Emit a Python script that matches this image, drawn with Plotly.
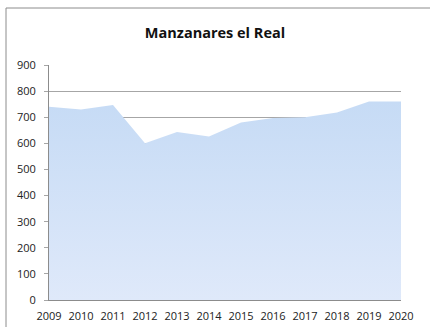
import plotly.graph_objects as go

years = ["2009", "2010", "2011", "2012", "2013", "2014",
         "2015", "2016", "2017", "2018", "2019", "2020"]
population = [740, 730, 747, 600, 643, 626, 680, 697, 700, 718, 760, 760]
y_ticks = [0, 100, 200, 300, 400, 500, 600, 700, 800, 900]

W, H = 430, 327
L, R, T, B = 49, 29, 65, 27
pw, ph = W - L - R, H - T - B

fig = go.Figure()
fig.add_trace(go.Scatter(
    x=years, y=population, mode="lines", line=dict(width=0, color="rgba(0,0,0,0)"),
    fill="tozeroy",
    fillgradient=dict(type="vertical",
                      colorscale=[[0, "#dfe9fa"], [1, "#c6dbf5"]]),
    hoverinfo="x+y", showlegend=False,
))

font = "'Open Sans', sans-serif"
fig.update_layout(
    width=W, height=H,
    margin=dict(l=L, r=R, t=T, b=B, autoexpand=False),
    paper_bgcolor="white", plot_bgcolor="white",
    font=dict(family=font, size=11, color="#222222"),
    title=dict(text="<b>Manzanares el Real</b>", x=0.5, xanchor="center",
               y=1 - 33 / H, yanchor="middle",
               font=dict(size=14.5, family=font, color="#111111")),
    xaxis=dict(type="category", range=[0, len(years) - 1], automargin=False,
               showgrid=False, showline=True, linecolor="#8c8c8c", linewidth=1,
               ticks="", ticklabelstandoff=6, fixedrange=True),
    yaxis=dict(range=[0, 900], tickvals=y_ticks, showgrid=True, automargin=False,
               gridcolor="#a6a6a6", gridwidth=1,
               showline=True, linecolor="#8c8c8c", linewidth=1,
               ticks="outside", ticklen=4, tickcolor="#a6a6a6",
               ticklabelstandoff=6, zeroline=False, fixedrange=True),
)

# chart frame (extends past right and bottom edges)
fig.add_shape(type="rect", xref="paper", yref="paper",
              x0=(6 - L) / pw, x1=(W + 20 - L) / pw,
              y0=-(B + 20) / ph, y1=(H - B - 8) / ph,
              line=dict(color="#8c8c8c", width=1), layer="below")

fig.write_html("out.html")
